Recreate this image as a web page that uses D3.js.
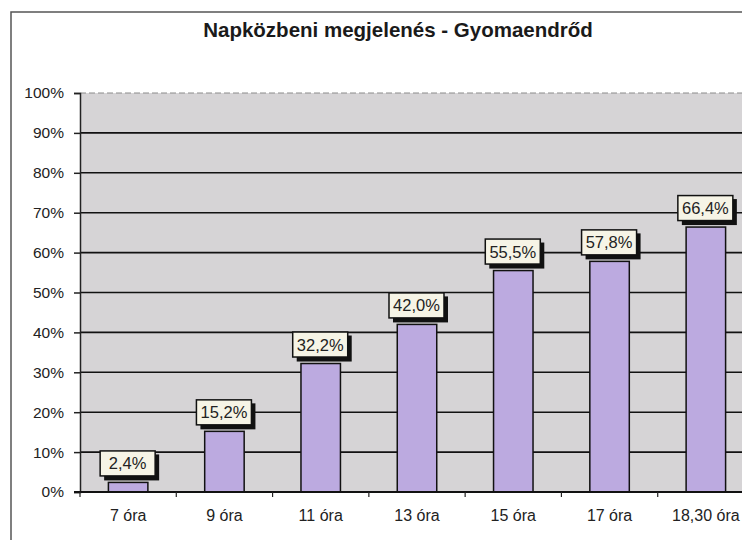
<!DOCTYPE html>
<html>
<head>
<meta charset="utf-8">
<script src="https://cdn.jsdelivr.net/npm/d3@7"></script>
<style>
  body { margin: 0; background: #fff; }
  svg { font-family: Arial, "Liberation Sans", sans-serif; }
</style>
</head>
<body>
<div id="container"></div>
<script>
const categories = ['7 óra', '9 óra', '11 óra', '13 óra', '15 óra', '17 óra', '18,30 óra'];
const values = [2.4, 15.2, 32.2, 42.0, 55.5, 57.8, 66.4];
const yTicks = [0, 10, 20, 30, 40, 50, 60, 70, 80, 90, 100];
const title = 'Napközbeni megjelenés - Gyomaendrőd';

const w = 742, h = 540;
const plotLeft = 80, plotRight = 754, plotTop = 93, plotBottom = 492;

const svg = d3.select('#container').append('svg')
  .attr('width', w).attr('height', h);

// outer frame (right side cut off)
svg.append('path')
  .attr('d', 'M11,' + h + ' V12 H' + w)
  .attr('fill', 'none').attr('stroke', '#555').attr('stroke-width', 1.5);

svg.append('text')
  .attr('x', 398).attr('y', 37)
  .attr('text-anchor', 'middle')
  .attr('font-size', 20.5).attr('font-weight', 'bold')
  .attr('fill', '#1a1a1a')
  .text(title);

const xScale = d3.scaleBand().domain(categories).range([plotLeft, plotRight]).paddingInner(0.59).paddingOuter(0.295);
const xTickScale = d3.scaleBand().domain(categories).range([plotLeft, plotRight]);
const yScale = d3.scaleLinear().domain([0, 100]).range([plotBottom, plotTop]);

// plot background
svg.append('rect')
  .attr('x', plotLeft).attr('y', plotTop)
  .attr('width', plotRight - plotLeft).attr('height', plotBottom - plotTop)
  .attr('fill', '#d6d4d6');

// gridlines
svg.append('g').selectAll('line')
  .data(yTicks.filter(d => d > 0))
  .enter().append('line')
  .attr('x1', plotLeft).attr('x2', plotRight)
  .attr('y1', d => yScale(d)).attr('y2', d => yScale(d))
  .attr('stroke', d => d === 100 ? '#8a8a8a' : '#111')
  .attr('stroke-width', d => d === 100 ? 1 : 1.6)
  .attr('stroke-dasharray', d => d === 100 ? '6,3' : null);

// bars
svg.append('g').selectAll('rect')
  .data(values)
  .enter().append('rect')
  .attr('x', (d, i) => xScale(categories[i]))
  .attr('y', d => yScale(d))
  .attr('width', xScale.bandwidth())
  .attr('height', d => plotBottom - yScale(d))
  .attr('fill', '#bcaae0')
  .attr('stroke', '#111').attr('stroke-width', 1.5);

// y axis
const yAxis = d3.axisLeft(yScale).tickValues(yTicks).tickFormat(d => d + '%').tickSize(6).tickPadding(10);
const gy = svg.append('g').attr('transform', 'translate(' + plotLeft + ',0)').call(yAxis);
gy.select('.domain').attr('stroke', '#222').attr('stroke-width', 1.5);
gy.selectAll('.tick line').attr('stroke', '#222').attr('stroke-width', 1.5);
gy.selectAll('.tick text').attr('font-size', 15.5).attr('fill', '#222').attr('font-family', 'Arial, "Liberation Sans", sans-serif');

// x axis line + ticks at band boundaries
svg.append('line')
  .attr('x1', plotLeft - 6).attr('x2', plotRight)
  .attr('y1', plotBottom).attr('y2', plotBottom)
  .attr('stroke', '#111').attr('stroke-width', 1.8);
svg.append('g').selectAll('line')
  .data(categories)
  .enter().append('line')
  .attr('x1', d => xTickScale(d)).attr('x2', d => xTickScale(d))
  .attr('y1', plotBottom).attr('y2', plotBottom + 5)
  .attr('stroke', '#222').attr('stroke-width', 1.2);
svg.append('g').selectAll('text')
  .data(categories)
  .enter().append('text')
  .attr('x', d => xTickScale(d) + xTickScale.bandwidth() / 2)
  .attr('y', 521)
  .attr('text-anchor', 'middle')
  .attr('font-size', 16).attr('fill', '#222')
  .text(d => d);

// data labels with shadowed boxes
const fmt = d => d.toFixed(1).replace('.', ',') + '%';
const labels = svg.append('g').selectAll('g')
  .data(values)
  .enter().append('g')
  .attr('transform', (d, i) => 'translate(' + (xScale(categories[i]) + xScale.bandwidth() / 2) + ',' + (yScale(d) - 19) + ')');
labels.append('rect')
  .attr('x', -24).attr('y', -9).attr('width', 55).attr('height', 26)
  .attr('fill', '#111');
labels.append('rect')
  .attr('x', -28).attr('y', -12.5).attr('width', 55).attr('height', 25)
  .attr('fill', '#f6f4e6').attr('stroke', '#111').attr('stroke-width', 1.5);
labels.append('text')
  .attr('x', -0.5).attr('y', 6)
  .attr('text-anchor', 'middle')
  .attr('font-size', 16.5).attr('fill', '#222')
  .text(fmt);
</script>
</body>
</html>
